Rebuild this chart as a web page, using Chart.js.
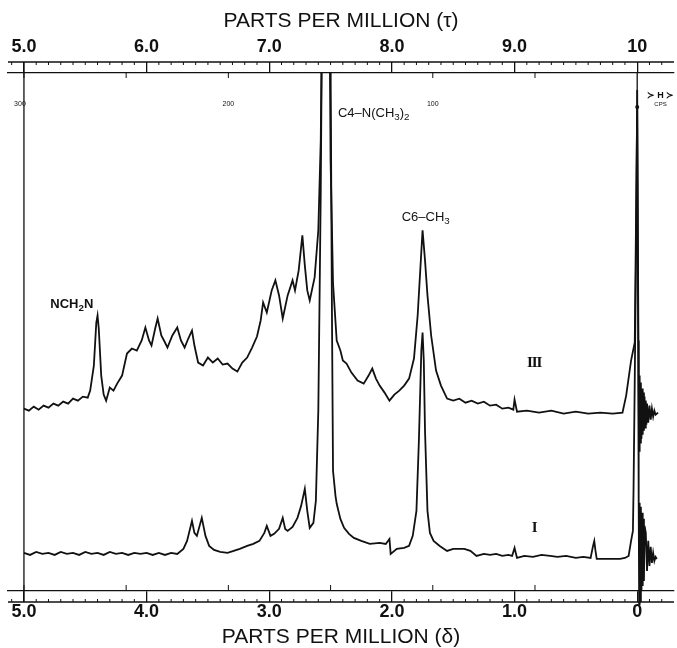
<!DOCTYPE html>
<html>
<head>
<meta charset="utf-8">
<script src="https://cdn.jsdelivr.net/npm/chart.js@4.4.1/dist/chart.umd.min.js"></script>
<style>
  html, body { margin: 0; padding: 0; background: #fff; }
  #wrap { width: 677px; height: 648px; }
</style>
</head>
<body>
<div id="wrap"><canvas id="nmr"></canvas></div>
<script>
// chemical shift axes (delta below, tau = 10 - delta above)
const deltaTicks = [5, 4, 3, 2, 1, 0];
const deltaLabels = ['5.0', '4.0', '3.0', '2.0', '1.0', '0'];
const tauTicks = [5, 6, 7, 8, 9, 10];
const tauLabels = ['5.0', '6.0', '7.0', '8.0', '9.0', '10'];
// 60 Mc instrument, cps marks
const cpsTicks = [50, 100, 150, 200, 250, 300];
const cpsLabels = [300, 200, 100];

// spectrum III (upper trace): ppm and intensity (arbitrary units)
const spec3Ppm = [
  5.00, 4.96, 4.92, 4.88, 4.84, 4.80, 4.76, 4.72, 4.68, 4.64, 4.60, 4.56, 4.52, 4.48,
  4.46, 4.43, 4.41, 4.40, 4.39, 4.37, 4.35, 4.33, 4.30, 4.27, 4.24, 4.20, 4.16, 4.12,
  4.08, 4.04, 4.01, 3.98, 3.96, 3.93, 3.91, 3.88, 3.85, 3.83, 3.79, 3.75, 3.72, 3.69,
  3.66, 3.63, 3.61, 3.58, 3.54, 3.50, 3.46, 3.42, 3.38, 3.34, 3.30, 3.26, 3.22, 3.18,
  3.14, 3.10, 3.07, 3.05, 3.02, 2.98, 2.95, 2.92, 2.89, 2.85, 2.81, 2.79, 2.76, 2.73,
  2.71, 2.69, 2.67, 2.63, 2.60, 2.58, 2.56, 2.535, 2.515, 2.50, 2.48, 2.45, 2.42, 2.40,
  2.37, 2.33, 2.28, 2.23, 2.19, 2.16, 2.13, 2.10, 2.06, 2.02, 1.98, 1.94, 1.90, 1.86,
  1.82, 1.79, 1.75, 1.73, 1.71, 1.68, 1.64, 1.60, 1.55, 1.50, 1.45, 1.40, 1.35, 1.30,
  1.25, 1.20, 1.15, 1.10, 1.05, 1.01, 1.00, 0.98, 0.90, 0.80, 0.70, 0.60, 0.50, 0.40,
  0.30, 0.20, 0.12, 0.09, 0.05, 0.02, 0.00, -0.01, -0.015, -0.02, -0.025, -0.03, -0.035,
  -0.04, -0.045, -0.05, -0.055, -0.06, -0.065, -0.07, -0.075, -0.08, -0.09, -0.10, -0.11,
  -0.12, -0.13, -0.14, -0.15, -0.17
];
const spec3Int = [
  182, 180, 184, 181, 185, 183, 187, 185, 189, 187, 192, 190, 194, 193,
  200, 225, 268, 275, 262, 215, 196, 190, 203, 200, 207, 215, 237, 242,
  240, 250, 263, 250, 245, 262, 272, 255, 248, 243, 255, 263, 250, 243,
  252, 260, 245, 228, 225, 233, 228, 232, 226, 227, 222, 219, 228, 233,
  243, 254, 270, 288, 278, 300, 310, 295, 272, 295, 310, 300, 320, 355,
  325, 300, 290, 313, 360, 450, 700, 640, 700, 430, 307, 250, 240, 230,
  227, 218, 210, 207, 215, 222, 212, 205, 198, 190, 196, 200, 205, 212,
  232, 275, 360, 330, 295, 255, 220, 205, 192, 190, 192, 188, 190, 187,
  189, 185, 186, 182, 183, 181, 191, 179, 180, 178, 180, 177, 179, 177,
  178, 177, 178, 195, 230, 248, 483, 250, 140, 215, 148, 208, 152,
  202, 156, 198, 160, 194, 163, 190, 166, 187, 168, 185, 171,
  182, 174, 180, 176, 178
];

// spectrum I (lower trace)
const spec1Ppm = [
  5.00, 4.95, 4.90, 4.85, 4.80, 4.75, 4.70, 4.65, 4.60, 4.55, 4.50, 4.45, 4.40, 4.35,
  4.30, 4.25, 4.20, 4.15, 4.10, 4.05, 4.00, 3.95, 3.90, 3.85, 3.80, 3.75, 3.70, 3.67,
  3.63, 3.61, 3.59, 3.55, 3.52, 3.49, 3.45, 3.40, 3.34, 3.29, 3.24, 3.18, 3.13, 3.08,
  3.04, 3.02, 2.99, 2.96, 2.92, 2.89, 2.87, 2.85, 2.81, 2.77, 2.74, 2.71, 2.69, 2.67,
  2.64, 2.62, 2.60, 2.58, 2.565, 2.535, 2.505, 2.49, 2.48, 2.46, 2.45, 2.42, 2.39, 2.35,
  2.31, 2.25, 2.18, 2.10, 2.05, 2.02, 2.01, 1.96, 1.90, 1.86, 1.83, 1.80, 1.78, 1.76,
  1.75, 1.74, 1.73, 1.71, 1.69, 1.66, 1.61, 1.55, 1.50, 1.45, 1.41, 1.36, 1.31, 1.25,
  1.20, 1.15, 1.10, 1.05, 1.02, 1.00, 0.98, 0.92, 0.85, 0.78, 0.71, 0.65, 0.58, 0.50,
  0.44, 0.38, 0.36, 0.35, 0.34, 0.33, 0.28, 0.20, 0.14, 0.10, 0.07, 0.05, 0.035, 0.03,
  0.02, 0.01, 0.00, -0.008, -0.012, -0.016, -0.02, -0.025, -0.03, -0.035, -0.04, -0.045,
  -0.05, -0.055, -0.06, -0.07, -0.08, -0.09, -0.10, -0.11, -0.12, -0.13, -0.14, -0.15, -0.16
];
const spec1Int = [
  38, 36, 39, 37, 38, 36, 39, 37, 38, 36, 39, 37, 38, 36,
  39, 37, 38, 36, 38, 37, 38, 36, 38, 36, 38, 37, 42, 50,
  70, 58, 55, 73, 55, 45, 41, 39, 38, 40, 42, 45, 47, 50,
  58, 65, 55, 57, 62, 73, 62, 60, 64, 73, 85, 102, 80, 63,
  68, 90, 180, 400, 650, 560, 650, 300, 120, 95, 87, 72, 63, 57,
  53, 50, 47, 48, 47, 52, 37, 42, 43, 45, 55, 80, 150, 240,
  258, 230, 160, 80, 58, 50, 45, 40, 42, 42, 42, 40, 35, 37,
  36, 37, 35, 36, 35, 43, 33, 35, 34, 36, 35, 34, 35, 33,
  34, 33, 45, 50, 40, 32, 32, 32, 32, 33, 35, 50, 60, 100,
  210, 330, 500, 250, 90, -15, 88, -10, 84, 0, 78, 5,
  72, 10, 65, 58, 20, 50, 25, 44, 28, 38, 30, 34, 32
];

const peakLabels = [
  { parts: [['NCH', 0], ['2', 1], ['N', 0]], ppm: 4.61, inten: 286, align: 'center', bold: true },
  { parts: [['C4\u2013N(CH', 0], ['3', 1], [')', 0], ['2', 1]], ppm: 2.44, inten: 477, align: 'left', bold: false },
  { parts: [['C6\u2013CH', 0], ['3', 1]], ppm: 1.92, inten: 373, align: 'left', bold: false }
];
const traceLabels = [
  { text: 'III', ppm: 0.84, inten: 227 },
  { text: 'I', ppm: 0.84, inten: 63 }
];

const toPoints = (ppm, vals) => ppm.map((p, i) => ({ x: p, y: vals[i] }));

function drawParts(ctx, parts, x, y, size, bold, align) {
  const w = (t, sub) => {
    ctx.font = (bold ? 'bold ' : '') + (sub ? size * 0.75 : size) + 'px "Liberation Sans"';
    return ctx.measureText(t).width;
  };
  let total = parts.reduce((s, [t, sub]) => s + w(t, sub), 0);
  let cx = align === 'center' ? x - total / 2 : x;
  ctx.textAlign = 'left';
  ctx.textBaseline = 'middle';
  parts.forEach(([t, sub]) => {
    const tw = w(t, sub);
    ctx.fillText(t, cx, sub ? y + size * 0.3 : y);
    cx += tw;
  });
}

const frameDecor = {
  id: 'frameDecor',
  afterDraw(chart) {
    const { ctx, chartArea: a, scales: { x, x2, y } } = chart;
    const topOuter = a.top - 11;
    const botOuter = a.bottom + 11;
    ctx.save();
    ctx.strokeStyle = '#111';
    ctx.fillStyle = '#111';
    ctx.lineWidth = 1.3;
    ctx.beginPath();
    ctx.moveTo(a.left, topOuter); ctx.lineTo(a.right, topOuter);
    ctx.moveTo(a.left, botOuter); ctx.lineTo(a.right, botOuter);
    const x5 = x.getPixelForValue(5);
    ctx.moveTo(x5, topOuter); ctx.lineTo(x5, botOuter);
    // tau = 10 mark runs down to the TMS pen
    const tmsTop = spec3Int[spec3Ppm.indexOf(0)];
    ctx.moveTo(x2.getPixelForValue(10), a.top);
    ctx.lineTo(x2.getPixelForValue(10), y.getPixelForValue(tmsTop));
    ctx.stroke();

    ctx.lineWidth = 1;
    ctx.beginPath();
    for (let i = -2; i <= 51; i++) {
      if (i % 10 === 0) continue;
      const px = x.getPixelForValue(i / 10);
      ctx.moveTo(px, botOuter); ctx.lineTo(px, botOuter - 3);
    }
    for (let i = 49; i <= 102; i++) {
      if (i % 10 === 0) continue;
      const px = x2.getPixelForValue(i / 10);
      ctx.moveTo(px, topOuter); ctx.lineTo(px, topOuter + 3);
    }
    cpsTicks.forEach(c => {
      const px = x.getPixelForValue(c / 60);
      ctx.moveTo(px, a.bottom); ctx.lineTo(px, a.bottom - 6);
      ctx.moveTo(px, a.top); ctx.lineTo(px, a.top + 5);
    });
    ctx.stroke();

    ctx.beginPath();
    ctx.arc(x.getPixelForValue(0), y.getPixelForValue(tmsTop), 2, 0, Math.PI * 2);
    ctx.fill();

    // cps numbers
    ctx.font = '7px "Liberation Sans"';
    ctx.textAlign = 'center';
    ctx.textBaseline = 'middle';
    const cpsY = y.getPixelForValue(486);
    cpsLabels.forEach(c => {
      const px = x.getPixelForValue(c / 60) - (c === 300 ? 4 : 0);
      ctx.fillText(String(c), px, cpsY);
    });
    ctx.font = 'bold 9px "Liberation Sans"';
    ctx.fillText('\u227B H \u227B', x.getPixelForValue(-0.19), y.getPixelForValue(495));
    ctx.font = '6px "Liberation Sans"';
    ctx.fillText('CPS', x.getPixelForValue(-0.19), y.getPixelForValue(486));

    // peak assignments
    peakLabels.forEach(l => {
      drawParts(ctx, l.parts, x.getPixelForValue(l.ppm), y.getPixelForValue(l.inten), 13, l.bold, l.align);
    });

    // roman numerals of the traces
    ctx.font = 'bold 15px "Liberation Serif"';
    ctx.letterSpacing = '-1px';
    ctx.textAlign = 'center';
    traceLabels.forEach(t => {
      ctx.fillText(t.text, x.getPixelForValue(t.ppm), y.getPixelForValue(t.inten));
    });
    ctx.restore();
  }
};

const tickFont = { family: '"Liberation Sans"', size: 18, weight: 'bold', lineHeight: 1 };
const titleFont = { family: '"Liberation Sans"', size: 21, lineHeight: 1 };

new Chart(document.getElementById('nmr'), {
  type: 'line',
  data: {
    datasets: [
      {
        label: 'III',
        data: toPoints(spec3Ppm, spec3Int),
        borderColor: '#111',
        borderWidth: 1.8,
        pointRadius: 0,
        tension: 0,
        clip: { left: 0, top: 0, right: 0, bottom: 0 }
      },
      {
        label: 'I',
        data: toPoints(spec1Ppm, spec1Int),
        borderColor: '#111',
        borderWidth: 1.8,
        pointRadius: 0,
        tension: 0,
        clip: { left: 0, top: 0, right: 0, bottom: 14 }
      }
    ]
  },
  options: {
    responsive: true,
    maintainAspectRatio: false,
    animation: false,
    devicePixelRatio: 1,
    layout: { padding: { left: 8, right: 3, top: 0, bottom: 0 } },
    plugins: {
      legend: { display: false },
      tooltip: { enabled: false }
    },
    scales: {
      x: {
        type: 'linear',
        position: 'bottom',
        reverse: true,
        min: -0.30,
        max: 5.13,
        afterBuildTicks: s => { s.ticks = deltaTicks.map(v => ({ value: v })); },
        ticks: {
          callback: (v, i) => deltaLabels[i],
          font: tickFont,
          color: '#111',
          padding: 1,
          maxRotation: 0,
          autoSkip: false
        },
        grid: { drawOnChartArea: false, tickLength: 11, color: '#111', lineWidth: 1.3 },
        border: { color: '#111', width: 1.3 },
        title: { display: true, text: 'PARTS PER MILLION (\u03B4)', font: titleFont, color: '#111', padding: { top: 5, bottom: 0 } }
      },
      x2: {
        type: 'linear',
        position: 'top',
        min: 4.87,
        max: 10.30,
        afterBuildTicks: s => { s.ticks = tauTicks.map(v => ({ value: v })); },
        ticks: {
          callback: (v, i) => tauLabels[i],
          font: tickFont,
          color: '#111',
          padding: 6,
          maxRotation: 0,
          autoSkip: false
        },
        grid: { drawOnChartArea: false, tickLength: 11, color: '#111', lineWidth: 1.3 },
        border: { color: '#111', width: 1.3 },
        title: { display: true, text: 'PARTS PER MILLION (\u03C4)', font: titleFont, color: '#111', padding: { top: 11, bottom: 0 } }
      },
      y: { display: false, min: 0, max: 517 }
    }
  },
  plugins: [frameDecor]
});
</script>
</body>
</html>
